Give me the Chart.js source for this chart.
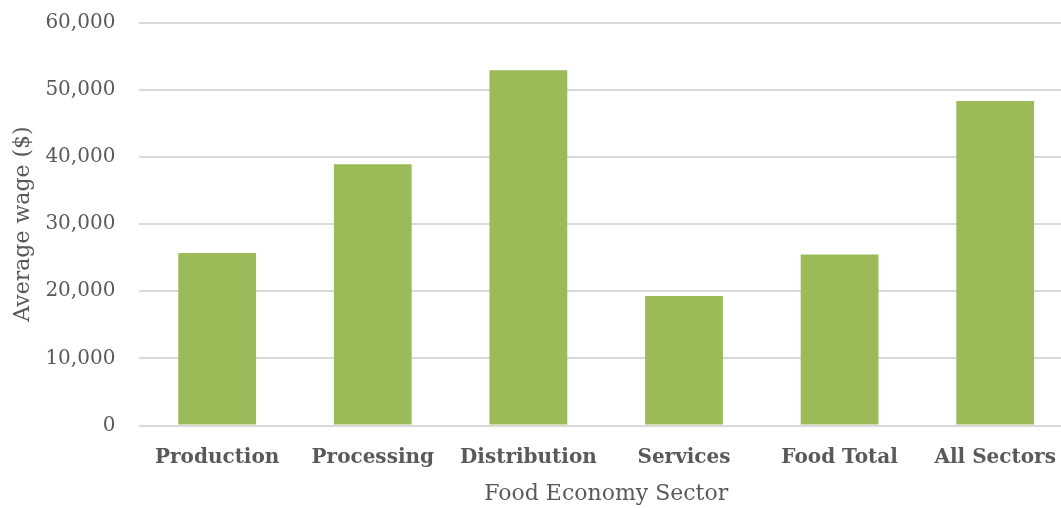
<!DOCTYPE html>
<html>
<head>
<meta charset="utf-8">
<script src="https://cdn.jsdelivr.net/npm/chart.js@4.4.1/dist/chart.umd.min.js"></script>
<style>
html,body{margin:0;padding:0;background:#fff;overflow:hidden}
#wrap{width:1075px;height:508px}
</style>
</head>
<body>
<div id="wrap"><canvas id="chart"></canvas></div>
<script>
// average wage by food economy sector
const sectors = ["Production","Processing","Distribution","Services","Food Total","All Sectors"]
const wages = [25700, 38900, 52900, 19300, 25450, 48300]
const yTicks = [0, 10000, 20000, 30000, 40000, 50000, 60000]

const textColor = "#595959"
const serif = "'DejaVu Serif', serif"

const ctx = document.getElementById("chart").getContext("2d")

new Chart(ctx,{
type:"bar",
data:{
labels:sectors,
datasets:[
{
label:"Average wage",
data:wages,
backgroundColor:"#9BBB59",
borderWidth:0,
barPercentage:0.5,
categoryPercentage:1
}
]
},
options:{
responsive:true,
maintainAspectRatio:false,
animation:false,
layout:{padding:{top:0,right:2,left:10,bottom:1}},
plugins:{legend:{display:false},tooltip:{enabled:false}},
scales:{
x:{
grid:{display:false},
border:{display:false},
ticks:{color:textColor,font:{family:serif,size:20,weight:"bold"},padding:12.5,maxRotation:0},
title:{display:true,text:"Food Economy Sector",color:textColor,font:{family:serif,size:22},padding:{top:-2,bottom:0}}
},
y:{
min:yTicks[0],
max:yTicks[yTicks.length-1],
afterBuildTicks:(axis)=>{axis.ticks = yTicks.map(v=>({value:v}))},
// tick padding would otherwise push the plot top down too
afterFit:(axis)=>{axis.paddingTop = 22.5; axis.paddingBottom = 0},
grid:{color:"#D9D9D9",lineWidth:2,drawTicks:false},
border:{display:false},
ticks:{color:textColor,font:{family:serif,size:20},padding:24,
callback:(v)=>v.toLocaleString("en-US")},
title:{display:true,text:"Average wage ($)",color:textColor,font:{family:serif,size:22},padding:{top:0,bottom:-15}}
}
}
}
})
</script>
</body>
</html>
